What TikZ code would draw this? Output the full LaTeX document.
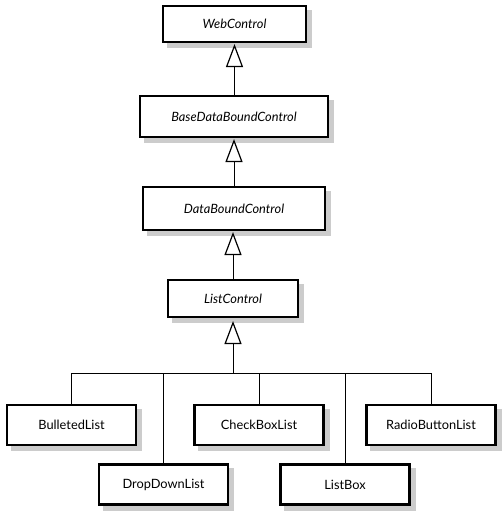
\documentclass[tikz,border=0pt]{standalone}
\usepackage{fontspec}
\setmainfont{Lato}
\usepackage{tikz}
\usetikzlibrary{arrows.meta,backgrounds}

\begin{document}
\begin{tikzpicture}[x=1pt,y=-1pt,
    cls/.style={draw,line width=2.1pt,fill=white,inner sep=0pt,
      font=\fontsize{12.8}{14}\selectfont},
    abs/.style={cls,font=\fontsize{12.8}{14}\selectfont\itshape},
    leaf/.style={cls,minimum width=129pt,minimum height=40pt},
    shade/.style={fill=black!20,draw=none},
    inherit/.style={line width=0.8pt,-{Triangle[open,width=17pt,length=23pt,line width=1.2pt]}}]
    \useasboundingbox (0,0) rectangle (502,519);
    % abstract classes
    \node[abs,minimum width=143pt,minimum height=36pt] (web) at (234.5,24) {WebControl};
    \node[abs,minimum width=188pt,minimum height=41pt] (base) at (234,116.5) {BaseDataBoundControl};
    \node[abs,minimum width=182pt,minimum height=43pt] (data) at (234,208.5) {DataBoundControl};
    \node[abs,minimum width=130pt,minimum height=37pt] (list) at (233,298.5) {ListControl};
    % concrete classes
    \node[leaf] (bulleted) at (71.5,425) {BulletedList};
    \node[leaf] (dropdown) at (163.5,484.5) {DropDownList};
    \node[leaf] (checkbox) at (259,425) {CheckBoxList};
    \node[leaf] (listbox) at (345,484.5) {ListBox};
    \node[leaf] (radio) at (431,425) {RadioButtonList};

    % shadows behind the boxes
    \begin{pgfonlayer}{background}
      \foreach \c in {web,base,data,list,bulleted,dropdown,checkbox,listbox,radio}
        \fill[shade] ([shift={(5,5)}]\c.north west) rectangle ([shift={(5,5)}]\c.south east);
    \end{pgfonlayer}

    \draw[inherit] (base.north -| web.south) -- ([yshift=-1pt]web.south);
    \draw[inherit] (data.north -| base.south) -- ([yshift=-1pt]base.south);
    \draw[inherit] (list.north) -- ([yshift=-1pt]list.north |- data.south);
    \coordinate (bar) at (233,373);
    \draw[inherit] (bar) -- ([yshift=-3pt]list.south);
    \draw[line width=0.8pt] (bar -| bulleted.north) -- (bar -| radio.north);
    \foreach \c in {bulleted,dropdown,checkbox,listbox,radio}
      \draw[line width=0.8pt] (bar -| \c.north) -- (\c.north);
\end{tikzpicture}
\end{document}
